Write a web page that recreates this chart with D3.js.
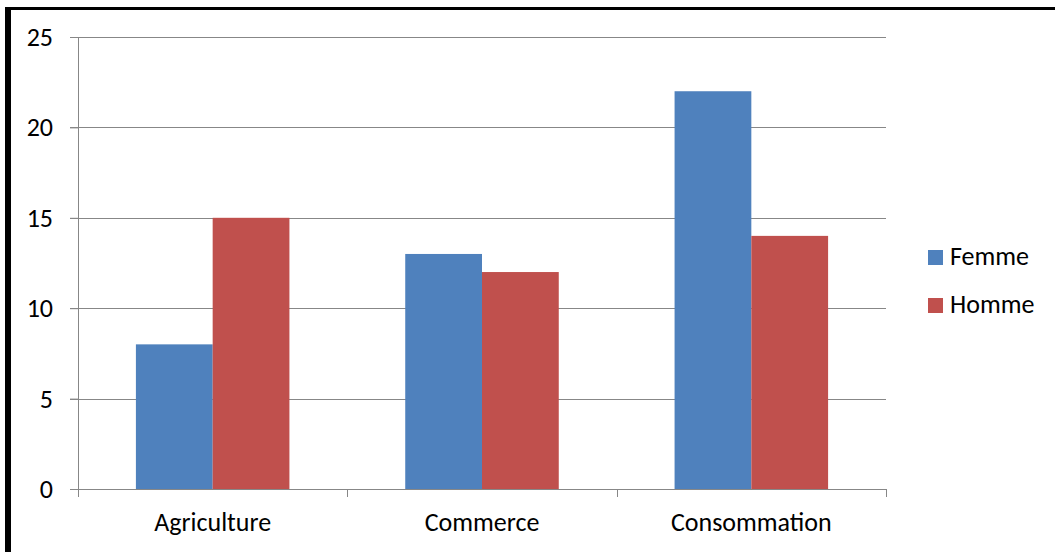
<!DOCTYPE html>
<html>
<head>
<meta charset="utf-8">
<script src="https://cdn.jsdelivr.net/npm/d3@7"></script>
<style>
  body { margin: 0; background: #fff; }
  svg { display: block; font-family: Carlito, "Open Sans", "Noto Sans", sans-serif; }
</style>
</head>
<body>
<svg id="chart" width="1055" height="552"></svg>
<script>
// données
var categories = ["Agriculture", "Commerce", "Consommation"];
var series = ["Femme", "Homme"];
var femme = [8, 13, 22];
var homme = [15, 12, 14];
var yTicks = [0, 5, 10, 15, 20, 25];
var colors = ["#4f81bd", "#c0504d"];

var svg = d3.select("#chart");
var W = +svg.attr("width"), H = +svg.attr("height");
var margin = { top: 37, left: 78, right: W - 886, bottom: H - 489 };
var innerW = W - margin.left - margin.right;
var innerH = H - margin.top - margin.bottom;

// cadre (bord gauche épais, haut)
svg.append("rect").attr("x", 5).attr("y", 7).attr("width", 6).attr("height", H - 7).attr("fill", "#000");
svg.append("rect").attr("x", 5).attr("y", 7).attr("width", W - 5).attr("height", 3).attr("fill", "#000");

var g = svg.append("g").attr("transform", "translate(" + margin.left + "," + margin.top + ")");

var x0 = d3.scaleBand().domain(categories).range([0, innerW]).paddingInner(0.43).paddingOuter(0.215);
var x1 = d3.scaleBand().domain(series).range([0, x0.bandwidth()]);
var y = d3.scaleLinear().domain([0, 25]).range([innerH, 0]);

// grille
g.selectAll(".grid").data(yTicks.slice(1)).enter().append("line")
  .attr("x1", -8).attr("x2", innerW)
  .attr("y1", function (d) { return Math.round(y(d)) + 0.5; })
  .attr("y2", function (d) { return Math.round(y(d)) + 0.5; })
  .attr("stroke", "#878787").attr("stroke-width", 1);

// barres
var data = categories.map(function (c, i) { return { cat: c, vals: [femme[i], homme[i]] }; });
var grp = g.selectAll(".grp").data(data).enter().append("g")
  .attr("transform", function (d) { return "translate(" + x0(d.cat) + ",0)"; });
grp.selectAll("rect").data(function (d) {
  return d.vals.map(function (v, j) { return { s: series[j], v: v, j: j }; });
}).enter().append("rect")
  .attr("x", function (d) { return x1(d.s); })
  .attr("width", x1.bandwidth())
  .attr("y", function (d) { return y(d.v); })
  .attr("height", function (d) { return innerH - y(d.v); })
  .attr("fill", function (d) { return colors[d.j]; });

// axe y
var yAxis = g.append("g").call(d3.axisLeft(y).tickValues(yTicks).tickSize(8).tickPadding(17))
  .attr("font-family", null).attr("font-size", null);
yAxis.select(".domain").attr("stroke", "#878787");
yAxis.selectAll(".tick line").attr("stroke", "#878787");
yAxis.selectAll("text").attr("font-size", 26).attr("fill", "#000").attr("dy", "0.33em");

// axe x
var xAxisG = g.append("g").attr("transform", "translate(0," + innerH + ")");
xAxisG.append("line").attr("x1", 0).attr("x2", innerW).attr("y1", 0.5).attr("y2", 0.5).attr("stroke", "#878787");
var xb = [0, innerW / 3, 2 * innerW / 3, innerW];
xAxisG.selectAll(".xt").data(xb).enter().append("line")
  .attr("x1", function (d) { return Math.round(d) + 0.5; })
  .attr("x2", function (d) { return Math.round(d) + 0.5; })
  .attr("y1", 0).attr("y2", 8).attr("stroke", "#878787");
xAxisG.selectAll(".xl").data(categories).enter().append("text")
  .attr("x", function (d) { return x0(d) + x0.bandwidth() / 2; })
  .attr("y", 42)
  .attr("text-anchor", "middle")
  .attr("font-size", 26)
  .text(function (d) { return d; });

// légende
var leg = svg.append("g").attr("transform", "translate(928,250)");
series.forEach(function (s, i) {
  var r = leg.append("g").attr("transform", "translate(0," + i * 48 + ")");
  r.append("rect").attr("width", 15).attr("height", 15).attr("fill", colors[i]);
  r.append("text").attr("x", 22).attr("y", 15).attr("font-size", 26).text(s);
});
</script>
</body>
</html>
